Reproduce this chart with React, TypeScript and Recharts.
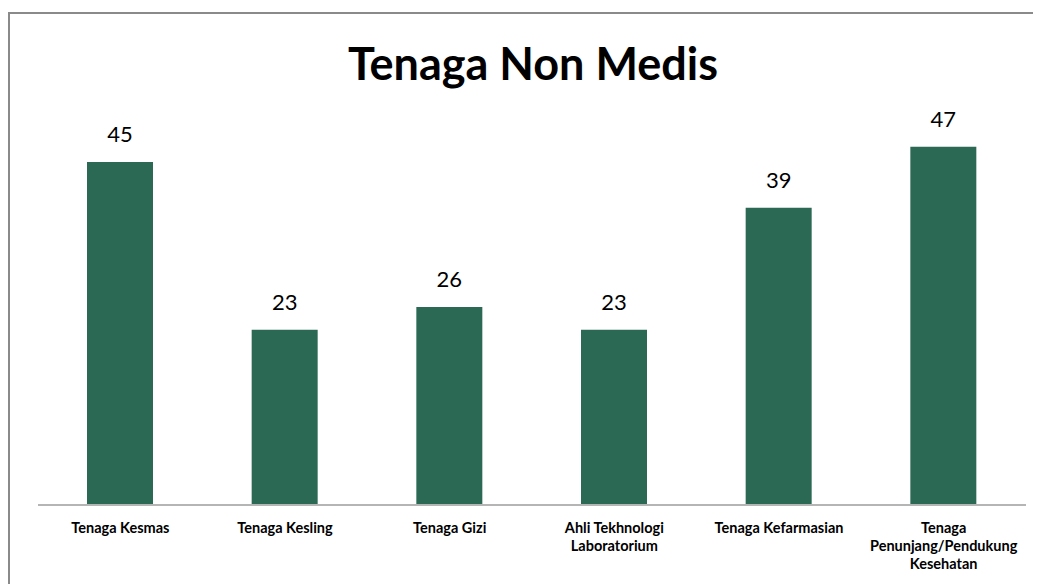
import { BarChart, Bar, XAxis, YAxis, LabelList } from "recharts";

const categories = [
  "Tenaga Kesmas",
  "Tenaga Kesling",
  "Tenaga Gizi",
  "Ahli Tekhnologi\nLaboratorium",
  "Tenaga Kefarmasian",
  "Tenaga\nPenunjang/Pendukung\nKesehatan",
];
const values = [45, 23, 26, 23, 39, 47];

const data = categories.map((name, i) => ({ name, value: values[i] }));

const FONT = "Lato, 'Open Sans', sans-serif";

function CategoryTick(props: any) {
  const { x, y, payload } = props;
  const lines = String(payload.value).split("\n");
  return (
    <g transform={`translate(${x},${y})`}>
      <text
        textAnchor="middle"
        fontFamily={FONT}
        fontWeight={700}
        fontSize={14.5}
        fill="#000"
      >
        {lines.map((line, i) => (
          <tspan key={i} x={0} dy={i === 0 ? 20 : 18}>
            {line}
          </tspan>
        ))}
      </text>
    </g>
  );
}

export default function App() {
  return (
    <div
      style={{
        position: "relative",
        marginTop: 4,
        width: 1033,
        height: 572,
        boxSizing: "border-box",
        borderTop: "2px solid #8a8a8a",
        borderLeft: "2px solid #8a8a8a",
        background: "#fff",
      }}
    >
      <div
        style={{
          position: "absolute",
          left: 0,
          width: 1046,
          top: 22,
          textAlign: "center",
          fontFamily: FONT,
          fontWeight: 700,
          fontSize: 45,
          lineHeight: "54px",
          color: "#000",
        }}
      >
        Tenaga Non Medis
      </div>
      <BarChart
        width={1031}
        height={570}
        data={data}
        margin={{ top: 110, right: 15, left: 28, bottom: 0 }}
      >
        <YAxis hide domain={[0, 50]} />
        <XAxis
          dataKey="name"
          height={79}
          interval={0}
          tickLine={false}
          axisLine={{ stroke: "#b5b5b5", strokeWidth: 2 }}
          tick={<CategoryTick />}
        />
        <Bar dataKey="value" fill="#2b6954" barSize={66} isAnimationActive={false}>
          <LabelList
            dataKey="value"
            position="top"
            offset={20}
            style={{ fontFamily: FONT, fontSize: 22, fill: "#000" }}
          />
        </Bar>
      </BarChart>
    </div>
  );
}
